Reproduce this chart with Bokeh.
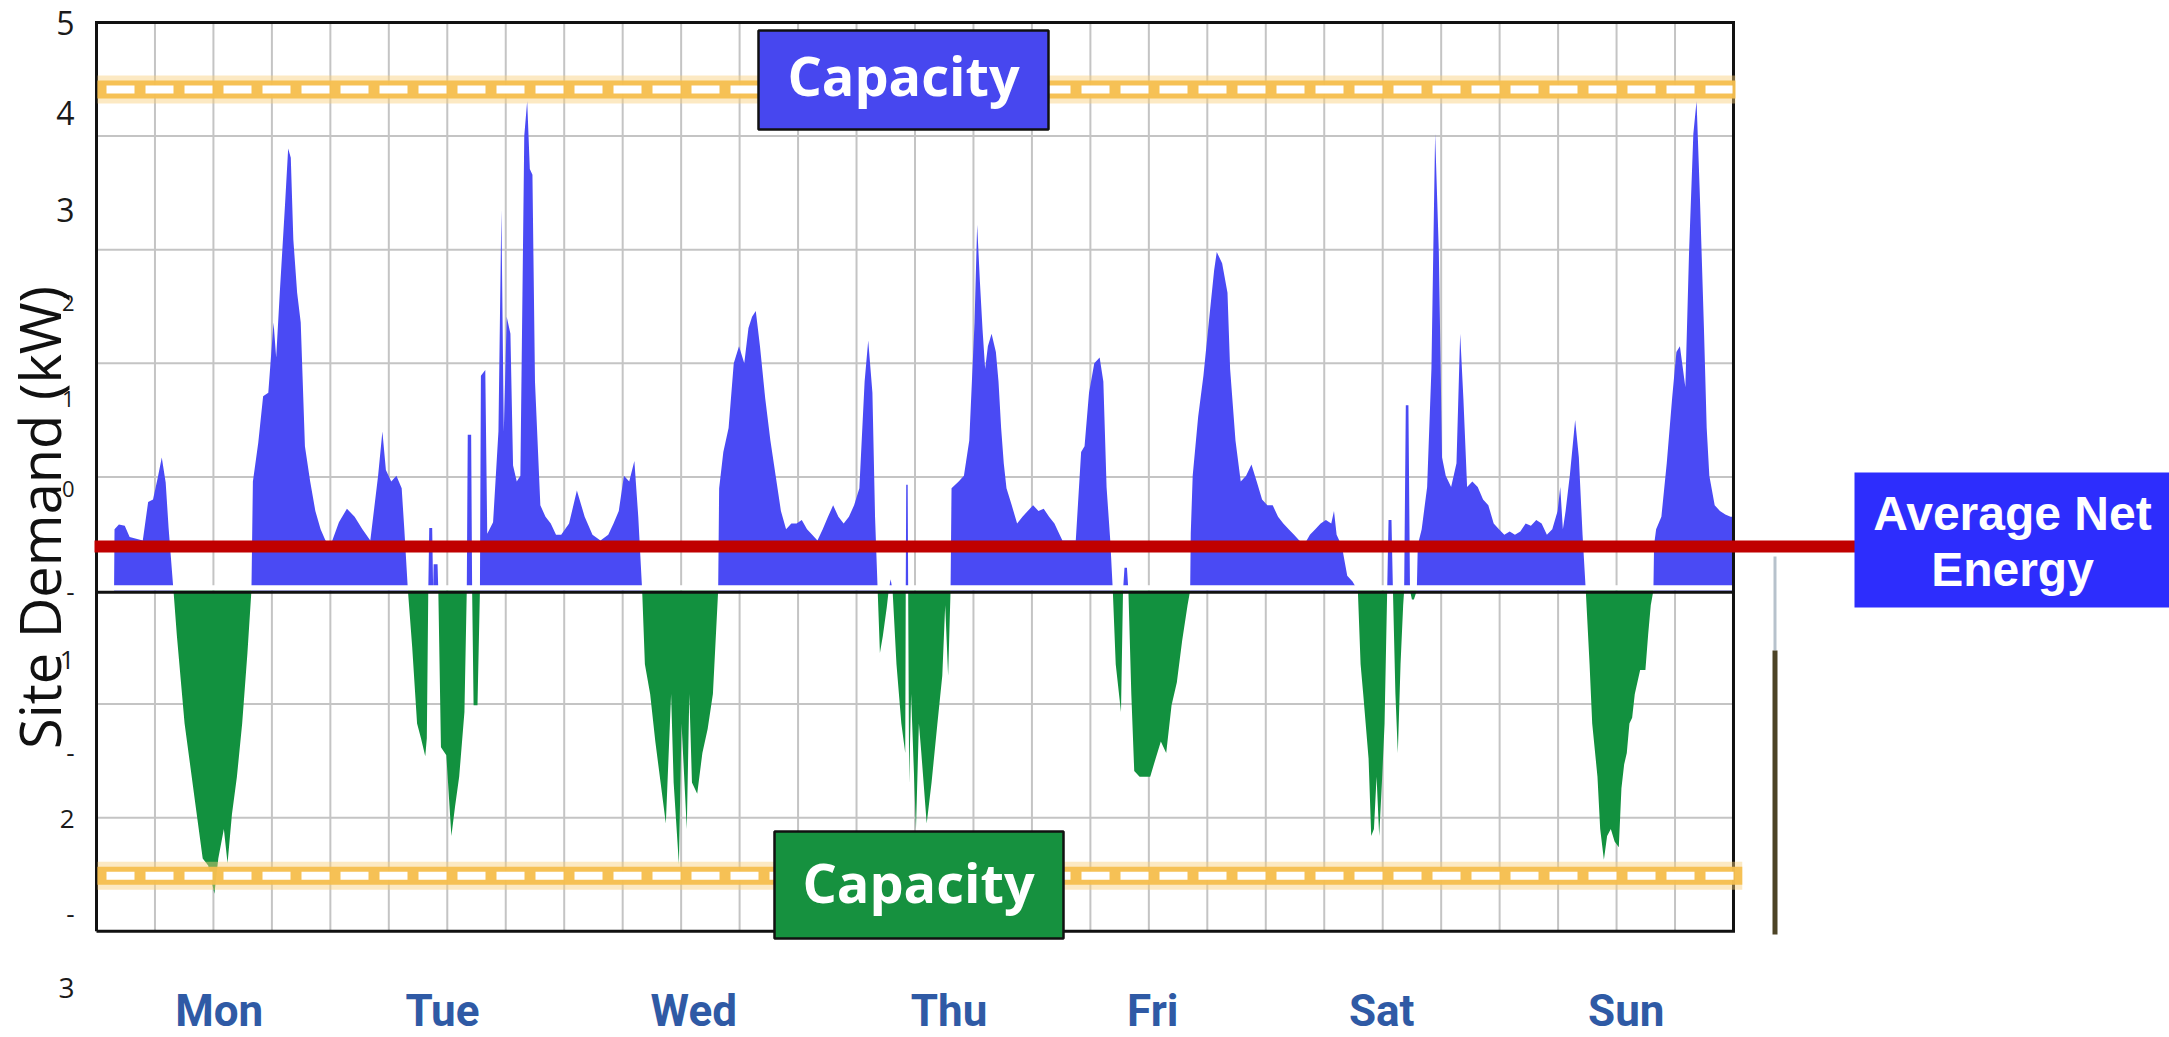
import numpy as np
from bokeh.plotting import figure
from bokeh.models import Range1d, ColumnDataSource
from bokeh.embed import file_html
from bokeh.resources import INLINE
from bokeh.core.properties import value, field

# ---------------- data (hour of week, net site demand in kW) ----------------
mon = [(1.8, 0.0), (1.85, 0.54), (2.3, 0.58), (2.9, 0.57), (3.4, 0.47), (4.75, 0.44), (5.3, 0.78),
       (5.8, 0.8), (6.3, 1.0), (6.7, 1.17), (7.1, 0.95), (7.4, 0.55), (7.9, 0.0), (8.24, -0.39),
       (9.04, -1.17), (10.1, -1.85), (10.9, -2.36), (11.46, -2.42), (12.1, -2.67), (12.5, -2.36),
       (13.07, -2.1), (13.45, -2.4), (13.9, -1.97), (14.41, -1.64), (14.95, -1.17), (15.49, -0.55),
       (15.9, 0.0), (16.05, 0.96), (16.6, 1.3), (17.1, 1.71), (17.63, 1.74), (18.17, 2.36),
       (18.44, 2.05), (18.81, 2.62), (19.35, 3.4), (19.67, 3.89), (19.94, 3.81), (20.2, 3.09),
       (20.59, 2.62), (20.96, 2.36), (21.39, 1.27), (21.93, 0.96), (22.46, 0.7), (23.0, 0.54),
       (23.5, 0.44)]
tue = [(24.07, 0.41), (24.88, 0.6), (25.7, 0.72), (26.49, 0.65), (27.29, 0.54), (28.1, 0.44),
       (28.9, 1.01), (29.34, 1.4), (29.7, 1.06), (30.25, 0.96), (30.78, 1.01), (31.32, 0.9),
       (31.59, 0.54), (31.96, 0.0), (32.4, -0.5), (32.9, -1.17), (33.3, -1.3), (33.74, -1.46),
       (33.9, -1.3), (34.05, 0.0), (34.15, 0.55), (34.45, 0.55), (34.55, 0.0), (34.6, 0.23),
       (35.0, 0.23), (35.08, 0.0), (35.35, -1.38), (35.9, -1.45), (36.42, -2.16), (36.8, -1.9),
       (37.22, -1.64), (37.76, -1.07), (38.0, 0.0), (38.1, 1.37), (38.45, 1.37), (38.55, 0.0),
       (38.7, -1.01), (39.1, -1.01), (39.35, 0.0), (39.45, 1.89), (39.9, 1.94), (40.1, 0.5),
       (40.7, 0.6), (41.25, 1.4), (41.55, 3.35), (41.8, 1.4), (42.1, 2.41), (42.48, 2.26),
       (42.75, 1.1), (43.13, 0.96), (43.5, 1.01), (43.9, 4.0), (44.2, 4.31), (44.47, 3.71),
       (44.74, 3.66), (45.0, 1.84), (45.55, 0.75), (46.08, 0.65), (46.62, 0.59), (47.16, 0.49),
       (47.69, 0.49)]
wed = [(48.5, 0.59), (49.3, 0.88), (50.1, 0.65), (50.9, 0.49), (51.72, 0.44), (52.52, 0.49),
       (53.06, 0.59), (53.6, 0.7), (54.13, 1.01), (54.67, 0.96), (55.2, 1.14), (55.6, 0.65),
       (56.0, 0.0), (56.28, -0.65), (56.82, -0.91), (57.35, -1.33), (57.89, -1.69), (58.43, -2.05),
       (58.97, -0.91), (59.23, -1.69), (59.77, -2.41), (60.04, -1.17), (60.58, -2.1), (60.84, -0.91),
       (61.11, -1.69), (61.65, -1.79), (62.18, -1.43), (62.72, -1.22), (63.26, -0.91), (63.8, 0.0),
       (63.9, 0.9), (64.33, 1.22), (64.87, 1.43), (65.4, 2.0), (65.94, 2.15), (66.48, 2.0),
       (66.91, 2.31), (67.28, 2.41), (67.66, 2.46), (68.09, 2.15), (68.63, 1.69), (69.16, 1.32),
       (69.7, 1.01), (70.24, 0.7), (70.77, 0.54), (71.31, 0.59), (71.85, 0.59)]
thu = [(72.38, 0.62), (72.92, 0.54), (73.45, 0.49), (73.99, 0.44), (74.53, 0.54), (75.07, 0.65),
       (75.6, 0.75), (76.14, 0.65), (76.68, 0.59), (77.22, 0.65), (77.75, 0.75), (78.29, 0.9),
       (78.83, 1.84), (79.2, 2.2), (79.63, 1.74), (79.9, 0.65), (80.17, 0.0), (80.4, -0.55),
       (80.7, -0.4), (81.1, -0.15), (81.3, 0.0), (81.5, 0.1), (81.7, 0.0), (82.1, -0.65),
       (82.6, -1.17), (83.0, -1.43), (83.05, 0.0), (83.1, 0.93), (83.25, 0.93), (83.3, 0.0),
       (83.4, -1.7), (83.6, -0.91), (84.1, -2.1), (84.4, -1.17), (84.65, -1.43), (85.2, -2.05),
       (85.7, -1.69), (86.3, -1.17), (86.8, -0.75), (87.1, -0.13), (87.4, -0.75), (87.65, 0.0),
       (87.75, 0.9), (88.48, 0.96), (89.02, 1.01), (89.57, 1.32), (89.84, 1.84), (90.11, 2.36),
       (90.38, 3.22), (90.66, 2.72), (90.93, 2.3), (91.2, 1.95), (91.48, 2.15), (91.86, 2.26),
       (92.3, 2.1), (92.57, 1.84), (92.84, 1.43), (93.11, 1.12), (93.39, 0.9), (93.93, 0.75),
       (94.48, 0.59), (95.03, 0.65), (95.57, 0.7)]
fri = [(96.12, 0.75), (96.67, 0.7), (97.21, 0.72), (97.76, 0.65), (98.31, 0.59), (98.85, 0.49),
       (99.13, 0.44), (100.5, 0.44), (101.05, 1.22), (101.4, 1.27), (101.86, 1.74), (102.4, 2.0),
       (102.95, 2.05), (103.33, 1.84), (103.66, 0.91), (104.04, 0.44), (104.3, 0.0), (104.6, -0.65),
       (105.14, -1.07), (105.35, 0.0), (105.5, 0.2), (105.75, 0.2), (105.9, 0.0), (106.2, -0.91),
       (106.5, -1.59), (107.05, -1.64), (107.6, -1.64), (108.14, -1.64), (108.69, -1.48),
       (109.23, -1.33), (109.78, -1.43), (110.33, -1.01), (110.87, -0.81), (111.42, -0.44),
       (111.97, -0.13), (112.24, 0.0), (112.3, 0.5), (112.5, 1.01), (113.06, 1.53), (113.6, 1.89),
       (114.15, 2.36), (114.7, 2.82), (114.97, 2.98), (115.52, 2.88), (116.07, 2.62), (116.34, 1.95),
       (116.89, 1.32), (117.43, 0.96), (117.98, 1.01), (118.53, 1.11), (119.07, 0.96), (119.62, 0.8)]
sat = [(120.16, 0.75), (120.71, 0.75), (121.26, 0.65), (121.8, 0.59), (122.35, 0.54), (122.9, 0.49),
       (123.44, 0.44), (123.99, 0.41), (124.53, 0.49), (125.08, 0.54), (125.63, 0.59), (126.17, 0.62),
       (126.72, 0.59), (127.0, 0.7), (127.27, 0.49), (127.81, 0.39), (128.36, 0.13), (128.9, 0.08),
       (129.45, 0.0), (129.73, -0.65), (130.0, -0.91), (130.55, -1.48), (130.82, -2.16), (131.1, -2.1),
       (131.37, -1.64), (131.64, -2.16), (131.92, -1.69), (132.19, -1.17), (132.46, 0.0), (132.6, 0.62),
       (132.9, 0.62), (133.05, 0.0), (133.3, -0.9), (133.55, -1.43), (133.83, -0.65), (134.1, -0.13),
       (134.2, 0.0), (134.37, 1.63), (134.64, 1.63), (134.8, 0.0), (135.0, -0.08), (135.2, -0.08),
       (135.5, 0.0), (135.6, 0.4), (136.0, 0.54), (136.56, 0.91), (137.0, 1.95), (137.38, 4.02),
       (137.76, 2.98), (138.09, 1.17), (138.47, 1.01), (139.02, 0.91), (139.57, 1.12), (139.95, 2.26),
       (140.28, 1.69), (140.66, 0.91), (141.2, 0.96), (141.75, 0.91), (142.3, 0.8), (142.84, 0.75),
       (143.39, 0.59), (143.93, 0.54)]
sun = [(144.48, 0.49), (145.03, 0.52), (145.57, 0.49), (146.12, 0.52), (146.67, 0.59), (147.21, 0.57),
       (147.76, 0.62), (148.31, 0.59), (148.85, 0.49), (149.4, 0.54), (149.95, 0.7), (150.22, 0.91),
       (150.49, 0.54), (150.77, 0.7), (151.2, 1.01), (151.75, 1.5), (152.13, 1.17), (152.51, 0.49),
       (152.84, 0.0), (153.23, -0.65), (153.5, -1.17), (154.04, -1.64), (154.32, -2.1), (154.7, -2.37),
       (155.03, -2.16), (155.41, -2.1), (155.8, -2.21), (156.23, -2.26), (156.5, -1.74), (156.78, -1.53),
       (157.05, -1.43), (157.32, -1.17), (157.6, -1.12), (157.87, -0.91), (158.42, -0.7), (158.96, -0.7),
       (159.24, -0.39), (159.51, -0.13), (159.78, 0.0), (159.85, 0.4), (160.06, 0.54), (160.6, 0.65),
       (161.15, 1.12), (161.7, 1.69), (162.14, 2.1), (162.5, 2.15), (163.06, 1.79), (163.44, 2.98),
       (163.88, 4.02), (164.21, 4.31), (164.54, 3.5), (164.97, 2.3), (165.25, 1.43), (165.52, 1.01),
       (166.07, 0.75), (166.61, 0.7), (167.16, 0.67), (167.7, 0.65), (168.0, 0.65)]

day_names = ["Mon", "Tue", "Wed", "Thu", "Fri", "Sat", "Sun"]
day_label_hours = [12.6, 35.5, 61.3, 87.5, 108.4, 131.9, 157.0]
ytick_labels = ["5", "4", "3", "2", "1", "0", "-", "1", "-", "2", "-", "3"]
ytick_values = [5.0, 4.2, 3.35, 2.53, 1.69, 0.89, -0.01, -0.61, -1.43, -2.01, -2.85, -3.5]
import_capacity_kw = 4.41
export_capacity_kw = -2.51
average_net_kw = 0.387
grid_hours = list(range(6, 168, 6))
grid_kw = [-2, -1, 1, 2, 3, 4]

# ---------------- layout helpers (canvas pixels <-> data) ----------------
W, H = 2169, 1037
PX_PER_HOUR, PX_PER_KW = 9.744, 113.6
ORIGIN_X, ORIGIN_Y = 96.0, 590.0
X0, X1 = -ORIGIN_X / PX_PER_HOUR, (W - ORIGIN_X) / PX_PER_HOUR
Y0, Y1 = (ORIGIN_Y - H) / PX_PER_KW, ORIGIN_Y / PX_PER_KW


def hx(px):
    return (px - ORIGIN_X) / PX_PER_HOUR


def vy(py):
    return (ORIGIN_Y - py) / PX_PER_KW


week = mon + tue + wed + thu + fri + sat + sun
hours = np.array([h for h, _ in week])
kw = np.array([k for _, k in week])
zeros = np.zeros_like(kw)

p = figure(width=W, height=H, x_range=Range1d(X0, X1), y_range=Range1d(Y0, Y1),
           output_backend="svg", toolbar_location=None,
           x_axis_location=None, y_axis_location=None, min_border=0,
           outline_line_color=None, background_fill_color="white",
           border_fill_color="white")
p.grid.visible = False

# grid
p.segment(x0=grid_hours, y0=[-3] * len(grid_hours), x1=grid_hours, y1=[5] * len(grid_hours),
          line_color="#C4C4C4", line_width=2)
p.segment(x0=[0] * len(grid_kw), y0=grid_kw, x1=[168] * len(grid_kw), y1=grid_kw,
          line_color="#C4C4C4", line_width=2)

# demand (blue) and export (green)
p.varea(x=hours, y1=zeros, y2=np.maximum(kw, 0), fill_color="#4A4AF4")
p.varea(x=hours, y1=np.minimum(kw, 0), y2=zeros, fill_color="#12913F")

# panel separation and frame
p.line(x=[0.15, 167.85], y=[0.025, 0.025], line_color="white", line_width=5)
p.line(x=[0, 168], y=[-0.015, -0.015], line_color="#111111", line_width=3)
p.line(x=[0, 168, 168, 0, 0], y=[-3, -3, 5, 5, -3], line_color="#111111", line_width=3,
       line_join="miter")

# capacity lines
for cap, x_end in [(import_capacity_kw, 168.2), (export_capacity_kw, 168.9)]:
    p.line(x=[0.1, x_end], y=[cap, cap], line_color="#F9CF7A", line_width=28, line_alpha=0.45)
    p.line(x=[0.1, x_end], y=[cap, cap], line_color="#F6BF4F", line_width=18, line_alpha=0.95)
    p.line(x=[hx(106), x_end - 0.3], y=[cap, cap], line_color="white", line_width=8,
           line_dash="28 11")

# average net energy line
p.line(x=[hx(94), hx(1856)], y=[average_net_kw, average_net_kw], line_color="#C00000",
       line_width=12)

# capacity boxes
p.quad(left=[hx(758)], right=[hx(1048)], top=[vy(30)], bottom=[vy(129)],
       fill_color="#4747EF", line_color="#111111", line_width=2.5)
p.text(x=[hx(903)], y=[vy(74)], text=["Capacity"], text_align="center",
       text_baseline="middle", text_color="white", text_font=value("Open Sans"),
       text_font_style="bold", text_font_size="54px")
p.quad(left=[hx(774)], right=[hx(1063)], top=[vy(831)], bottom=[vy(938)],
       fill_color="#16913F", line_color="#111111", line_width=2.5)
p.text(x=[hx(918)], y=[vy(881)], text=["Capacity"], text_align="center",
       text_baseline="middle", text_color="white", text_font=value("Open Sans"),
       text_font_style="bold", text_font_size="54px")

# average net energy box
p.quad(left=[hx(1854)], right=[hx(2190)], top=[vy(472)], bottom=[vy(607)],
       fill_color="#2D2DFD", line_color=None)
p.text(x=[hx(2012), hx(2012)], y=[vy(513), vy(569)], text=["Average Net", "Energy"],
       text_align="center", text_baseline="middle", text_color="white",
       text_font=value("Liberation Sans"), text_font_style="bold", text_font_size="48px")

# photo sliver at right
p.quad(left=[hx(1773)], right=[hx(1776)], top=[vy(556)], bottom=[vy(650)],
       fill_color="#B7C2CC", line_color=None)
p.quad(left=[hx(1772)], right=[hx(1777)], top=[vy(650)], bottom=[vy(934)],
       fill_color="#4D4426", line_color=None)

# y tick labels
tick_src = ColumnDataSource(dict(
    x=[hx(74)] * len(ytick_labels), y=ytick_values, text=ytick_labels,
    size=["32px", "32px", "32px", "22px", "22px", "22px", "26px", "26px", "26px", "26px",
          "26px", "28px"]))
p.text(x="x", y="y", text="text", source=tick_src, text_align="right", text_baseline="middle",
       text_color="#1A1A1A", text_font=value("Open Sans"), text_font_size=field("size"))

# y title
p.text(x=[hx(38)], y=[vy(517)], text=["Site Demand (kW)"], angle=np.pi / 2,
       text_align="center", text_baseline="middle", text_color="#111111",
       text_font=value("Open Sans"), text_font_size="56px")

# day labels
p.text(x=day_label_hours, y=[vy(1010)] * len(day_names), text=day_names, text_align="center",
       text_baseline="middle", text_color="#2F5AA5", text_font=value("Roboto"),
       text_font_style="bold", text_font_size="44px")

open("out.html", "w").write(file_html(p, INLINE))
